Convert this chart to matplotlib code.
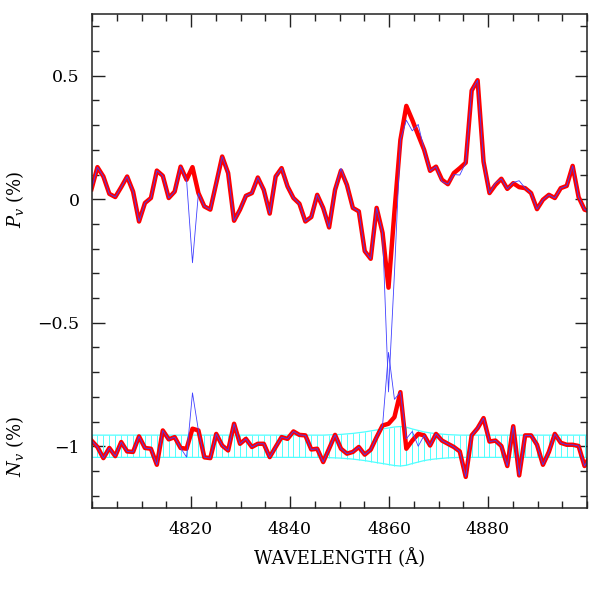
import numpy as np
import matplotlib.pyplot as plt
from matplotlib.ticker import MultipleLocator, FixedLocator

# sampling grid of the spectrum (Angstrom)
wave = np.round(4799.9 + 1.2 * np.arange(85), 1)

# Stokes V polarisation, cleaned (thick red) and raw (thin blue), in %
pv_clean = [0.041, 0.13, 0.092, 0.022, 0.009, 0.049, 0.092, 0.031, -0.09, -0.015,
            0.005, 0.116, 0.095, 0.005, 0.031, 0.132, 0.079, 0.13, 0.025, -0.029,
            -0.042, 0.065, 0.173, 0.106, -0.087, -0.042, 0.014, 0.025, 0.088, 0.038,
            -0.058, 0.092, 0.126, 0.052, 0.005, -0.018, -0.09, -0.072, 0.018, -0.035,
            -0.114, 0.038, 0.116, 0.058, -0.035, -0.049, -0.21, -0.241, -0.035, -0.136,
            -0.358, -0.05, 0.24, 0.378, 0.321, 0.26, 0.2, 0.115, 0.132, 0.079,
            0.061, 0.106, 0.126, 0.148, 0.44, 0.482, 0.152, 0.025, 0.058, 0.083,
            0.042, 0.065, 0.049, 0.045, 0.025, -0.04, -0.002, 0.018, 0.005, 0.045,
            0.054, 0.135, 0.009, -0.042, -0.05]
pv_raw = list(pv_clean)
for i, v in {17: -0.257, 42: 0.125, 50: -0.78, 51: -0.3, 53: 0.32, 54: 0.277,
             55: 0.303, 59: 0.072, 61: 0.1, 62: 0.098, 68: 0.065, 71: 0.068,
             72: 0.075}.items():
    pv_raw[i] = v

# null spectrum (plotted with an offset of -1), cleaned and raw
nv_clean = [0.023, -0.003, -0.048, -0.007, -0.04, 0.017, -0.021, -0.023, 0.04, -0.007,
            -0.01, -0.075, 0.064, 0.028, 0.037, -0.007, -0.01, 0.071, 0.064, -0.045,
            -0.048, 0.05, 0.003, -0.017, 0.091, 0.01, 0.03, -0.003, 0.01, 0.01,
            -0.044, -0.003, 0.037, 0.03, 0.06, 0.046, 0.044, -0.013, -0.01, -0.064,
            -0.01, 0.046, -0.01, -0.03, -0.023, -0.003, -0.034, -0.014, 0.037, 0.084,
            0.091, 0.118, 0.219, -0.01, 0.023, 0.05, 0.044, 0.003, 0.05, 0.023,
            0.01, -0.003, -0.021, -0.124, 0.044, 0.073, 0.114, 0.019, 0.023, 0.001,
            -0.08, 0.081, -0.118, 0.044, 0.044, 0.006, -0.075, -0.023, 0.05, 0.014,
            0.006, 0.006, 0.001, -0.08, -0.037]
nv_raw = list(nv_clean)
for i, v in {16: -0.044, 17: 0.216, 50: 0.38, 51: 0.19, 53: 0.03, 54: 0.06,
             55: 0.0}.items():
    nv_raw[i] = v

# 1-sigma error of the null spectrum
sigma = [0.045] * 40 + [0.046, 0.047, 0.048, 0.05, 0.052, 0.055, 0.058, 0.062, 0.066,
                        0.07, 0.074, 0.078, 0.08, 0.077, 0.07, 0.064, 0.058, 0.054,
                        0.051, 0.049, 0.047, 0.046] + [0.045] * 23

offset = -1.0
xticks = [4820, 4840, 4860, 4880]

plt.rcParams['font.family'] = ['DejaVu Serif']
plt.rcParams['mathtext.fontset'] = 'dejavuserif'

fig = plt.figure(figsize=(6.01, 6.01), dpi=100)
ax = fig.add_axes([92 / 601, 1 - 508 / 601, 495 / 601, 494 / 601])

sg = np.array(sigma)
lo = offset - sg
hi = offset + sg
ax.vlines(wave, lo, hi, color='#50ffff', lw=0.7)
ax.plot(wave, lo, color='#50ffff', lw=0.9)
ax.plot(wave, hi, color='#50ffff', lw=0.9)

ax.plot(wave, pv_clean, color='red', lw=3.2, solid_joinstyle='round')
ax.plot(wave, pv_raw, color='#4040ff', lw=0.6)
ax.plot(wave, np.array(nv_clean) + offset, color='red', lw=3.2,
        solid_joinstyle='round')
ax.plot(wave, np.array(nv_raw) + offset, color='#4040ff', lw=0.6)

ax.set_xlim(4800, 4900)
ax.set_ylim(-1.25, 0.75)
ax.xaxis.set_major_locator(FixedLocator(xticks))
ax.xaxis.set_minor_locator(MultipleLocator(5))
ax.yaxis.set_major_locator(FixedLocator([-1, -0.5, 0, 0.5]))
ax.yaxis.set_minor_locator(MultipleLocator(0.1))
ax.set_yticklabels(['\u22121', '\u22120.5', '0', '0.5'])
ax.tick_params(which='both', direction='in', top=True, right=True,
               color='#222222', width=1.0, labelsize=12.5)
ax.tick_params(which='major', length=9, pad=9)
ax.tick_params(which='minor', length=5)
for s in ax.spines.values():
    s.set_color('#222222')
    s.set_linewidth(1.1)

ax.set_xlabel('WAVELENGTH (\u00c5)', fontsize=13, labelpad=8)

tr = ax.get_yaxis_transform()
ax.text(-0.155, 0.0, r'$P_v$ (%)', transform=tr, rotation=90, fontsize=13,
        ha='center', va='center')
ax.text(-0.155, -1.0, r'$N_v$ (%)', transform=tr, rotation=90, fontsize=13,
        ha='center', va='center')

fig.savefig('out.png', dpi=100)
